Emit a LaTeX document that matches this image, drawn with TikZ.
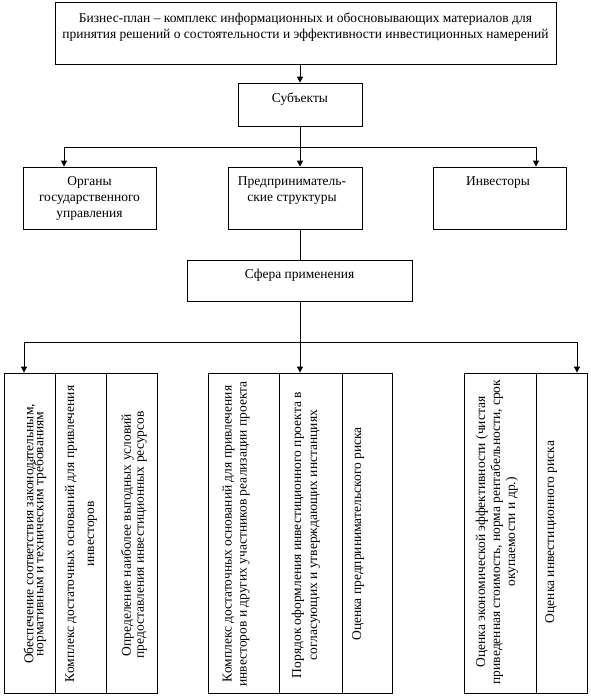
\documentclass[tikz,border=0pt]{standalone}
\usepackage{fontspec}
\setmainfont{Liberation Serif}
\usetikzlibrary{arrows.meta,positioning,calc}

\begin{document}
\begin{tikzpicture}[x=1pt,y=-1pt,
	box/.style={draw,line width=0.8pt,inner sep=0pt},
	lbl/.style={inner sep=0pt,anchor=north,align=center,font=\fontsize{13.5}{16}\selectfont},
	vlbl/.style={inner sep=0pt,rotate=90,align=center,font=\fontsize{13.5}{16}\selectfont},
	conn/.style={line width=0.8pt},
	arr/.style={conn,-{Triangle[width=6pt,length=6pt]}}]
	
	\useasboundingbox (0,0) rectangle (590,697);
	
	% upper boxes
	\node[box,minimum width=501pt,minimum height=62pt] (plan) at (305.5,33) {};
	\node[box,minimum width=124pt,minimum height=43pt] (subj) at (300,104.5) {};
	\node[box,minimum width=133pt,minimum height=62pt] (org) at (89.5,198) {};
	\node[box,minimum width=134pt,minimum height=62pt] (pred) at (295,198) {};
	\node[box,minimum width=133pt,minimum height=62pt] (inv) at (499.5,198) {};
	\node[box,minimum width=225pt,minimum height=41pt] (sfera) at (299.5,280.5) {};
	
	\node[lbl] (plantext) at (305.5,12.5) {Бизнес-план – комплекс информационных и обосновывающих материалов для\\принятия решений о состоятельности и эффективности инвестиционных намерений};
	\node[lbl] (subjtext) at (300,92.5) {Субъекты};
	\node[lbl] (orgtext) at (89.5,176.5) {Органы\\государственного\\управления};
	\node[lbl] (predtext) at (292,176.5) {Предприниматель-\\ские структуры};
	\node[lbl] (invtext) at (498,176.5) {Инвесторы};
	\node[lbl] (sferatext) at (299.5,269) {Сфера применения};
	
	% lower columns
	\node[box,minimum width=51pt,minimum height=320pt] (L1) at (29.5,533) {};
	\node[box,minimum width=51pt,minimum height=320pt] (L2) at (80.5,533) {};
	\node[box,minimum width=51pt,minimum height=320pt] (L3) at (131.5,533) {};
	\node[box,minimum width=71pt,minimum height=320pt] (M1) at (243.5,533) {};
	\node[box,minimum width=63pt,minimum height=320pt] (M2) at (310.5,533) {};
	\node[box,minimum width=50pt,minimum height=320pt] (M3) at (367,533) {};
	\node[box,minimum width=72pt,minimum height=320pt] (R1) at (500,533) {};
	\node[box,minimum width=51pt,minimum height=320pt] (R2) at (561.5,533) {};
	
	\node[vlbl] (L1text) at (35,534) {Обеспечение соответствия законодательным,\\[-6pt]нормативным и техническим требованиям};
	\node[vlbl] (L2text) at (81,534) {Комплекс достаточных оснований для привлечения\\[4pt]инвесторов};
	\node[vlbl] (L3text) at (134,535) {Определение наиболее выгодных условий\\[-3pt]предоставления инвестиционных ресурсов};
	\node[vlbl] (M1text) at (236,534) {Комплекс достаточных оснований для привлечения\\[-1pt]инвесторов и других участников реализации проекта};
	\node[vlbl] (M2text) at (306,535) {Порядок оформления инвестиционного проекта в\\согласующих и утверждающих инстанциях};
	\node[vlbl] (M3text) at (358,534) {Оценка предпринимательского риска};
	\node[vlbl] (R1text) at (497,532) {Оценка экономической эффективности (чистая\\[-1pt]приведенная стоимость, норма рентабельности, срок\\[-1pt]окупаемости и др.)};
	\node[vlbl] (R2text) at (551,532) {Оценка инвестиционного риска};
	
	% connectors
	\coordinate (fork1) at (300,147);
	\coordinate (dropL) at (64,147);
	\coordinate (dropR) at (536,147);
	\coordinate (fork2) at (300,342);
	\coordinate (dropBL) at (24,342);
	\coordinate (dropBR) at (577,342);
	
	\draw[arr] (plan.south -| subj) -- (subj.north);
	\draw[conn] (subj) -- (fork1);
	\draw[arr] (fork1) -| (dropL |- org.north);
	\draw[arr] (fork1) -| (dropR |- inv.north);
	\draw[arr] (fork1) -- (fork1 |- pred.north);
	\draw[conn] (fork1 |- pred.south) -- (fork1 |- sfera.north);
	\draw[conn] (fork2 |- sfera.south) -- (fork2);
	\draw[arr] (fork2) -| (dropBL |- L1.north);
	\draw[arr] (fork2) -| (dropBR |- R2.north);
	\draw[arr] (fork2) -- (fork2 |- M2.north);
\end{tikzpicture}
\end{document}
